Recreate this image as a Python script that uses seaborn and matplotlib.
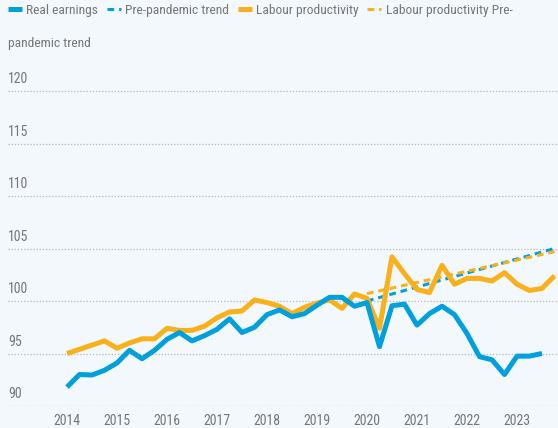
import numpy as np
import pandas as pd
import matplotlib
matplotlib.use("Agg")
import matplotlib.pyplot as plt
from matplotlib import font_manager
import seaborn as sns

# quarterly series, 2014 Q1 onwards
real_earnings = [91.8, 93.0, 92.95, 93.4, 94.1, 95.3, 94.5, 95.3, 96.35, 97.0,
                 96.2, 96.7, 97.3, 98.3, 97.0, 97.5, 98.7, 99.15, 98.5, 98.8,
                 99.6, 100.35, 100.35, 99.5, 99.85, 95.65, 99.55, 99.7, 97.7, 98.8,
                 99.5, 98.7, 96.9, 94.7, 94.4, 93.0, 94.75, 94.75, 95.0]
productivity = [95.0, 95.4, 95.8, 96.2, 95.5, 96.0, 96.4, 96.4, 97.4, 97.2,
                97.2, 97.6, 98.4, 98.95, 99.05, 100.1, 99.85, 99.5, 98.8, 99.4,
                99.8, 100.1, 99.3, 100.67, 100.25, 97.4, 104.2, 102.6, 101.1, 100.8,
                103.4, 101.6, 102.15, 102.15, 101.9, 102.7, 101.6, 101.0, 101.2, 102.4]
# pre-pandemic trends: start and end points (2020 Q1 -> 2023 Q4)
trend_quarters = [24, 39]
earnings_trend = [100.0, 105.0]
productivity_trend = [100.7, 104.7]

year_ticks = list(range(2014, 2024))
y_ticks = [90, 95, 100, 105, 110, 115, 120]

BLUE = "#00A0DC"
ORANGE = "#F9B01B"
GREY = "#767676"
BG = "#F3F8FC"

names = set(f.name for f in font_manager.fontManager.ttflist)
family = "Roboto"
for cand in ["Roboto Condensed", "Archivo Narrow", "PT Sans Narrow", "Open Sans Condensed"]:
    if cand in names:
        family = cand
        break

sns.set_theme(style="white")
plt.rcParams["font.family"] = [family, "DejaVu Sans"]


def to_year(q):
    return 2014 + np.asarray(q) / 4.0


earn_df = pd.DataFrame({"year": to_year(np.arange(len(real_earnings))), "value": real_earnings})
prod_df = pd.DataFrame({"year": to_year(np.arange(len(productivity))), "value": productivity})
etr_df = pd.DataFrame({"year": to_year(trend_quarters), "value": earnings_trend})
ptr_df = pd.DataFrame({"year": to_year(trend_quarters), "value": productivity_trend})

fig = plt.figure(figsize=(5.58, 4.28), dpi=100, facecolor=BG)
ax = fig.add_axes([8 / 558, 22 / 428, 550 / 558, 336 / 428])
ax.set_facecolor(BG)

dash = (0, (2.2, 1.6))
sns.lineplot(data=earn_df, x="year", y="value", color=BLUE, lw=3.6, ax=ax,
             label="Real earnings", solid_capstyle="butt")
sns.lineplot(data=etr_df, x="year", y="value", color=BLUE, lw=2.2, ax=ax,
             label="Pre-pandemic trend", linestyle=dash)
sns.lineplot(data=prod_df, x="year", y="value", color=ORANGE, lw=3.6, ax=ax,
             label="Labour productivity", solid_capstyle="butt")
sns.lineplot(data=ptr_df, x="year", y="value", color=ORANGE, lw=2.2, ax=ax,
             label="Labour productivity Pre-", linestyle=dash)
ax.lines[0].set_zorder(3)

ax.set_xlim(2014 - 59 / 50, 2014 + 491 / 50)
ax.set_ylim(90, 90 + 336 / 10.5)
ax.set_xticks(year_ticks)
ax.set_xticklabels([str(y) for y in year_ticks])
ax.set_yticks(y_ticks)
ax.set_yticklabels([])
ax.tick_params(axis="x", length=0, pad=6, labelsize=10, labelcolor=GREY)
ax.tick_params(axis="y", length=0)
ax.set_xlabel("")
ax.set_ylabel("")
ax.grid(axis="y", color="#B8B8B8", linestyle=(0, (1, 1.5)), linewidth=0.9)
ax.grid(axis="x", visible=False)
for s in ax.spines.values():
    s.set_visible(False)

for v in y_ticks:
    ax.text(0, v + 0.45, str(v), transform=ax.get_yaxis_transform(),
            ha="left", va="bottom", fontsize=10, color=GREY)

ax.get_legend().remove()
handles, labels = ax.get_legend_handles_labels()
leg = fig.legend(handles, labels, loc="upper left", bbox_to_anchor=(8 / 558, 1 - 4 / 428),
                 ncol=4, frameon=False, fontsize=9.7, borderaxespad=0, borderpad=0,
                 handlelength=1.05, handletextpad=0.3, columnspacing=0.65)
for t in leg.get_texts():
    t.set_color(GREY)
fig.text(8 / 558, 1 - 43 / 428, "pandemic trend", ha="left", va="center",
         fontsize=9.7, color=GREY)

fig.savefig("out.png", dpi=100, facecolor=BG)
